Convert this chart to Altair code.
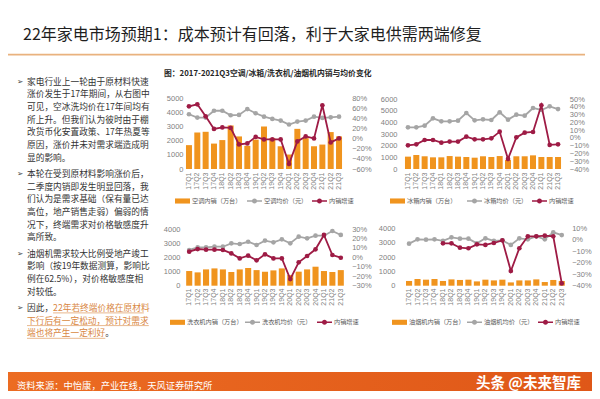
import altair as alt
import pandas as pd

# ---------------- data ----------------
QUARTERS = ["17Q1", "17Q2", "17Q3", "17Q4", "18Q1", "18Q2", "18Q3", "18Q4",
            "19Q1", "19Q2", "19Q3", "19Q4", "20Q1", "20Q2", "20Q3", "20Q4",
            "21Q1", "21Q2", "21Q3"]

AC_SALES = [1700, 2600, 2650, 1810, 2060, 3100, 2320, 1650, 2090, 3030, 2200, 1620,
            1030, 2860, 2200, 1620, 1740, 2630, 2320]
AC_PRICE = [3900, 3660, 3660, 4150, 4150, 3830, 3850, 4270, 3970, 3730, 3570, 3450,
            3170, 3380, 3450, 3730, 3640, 3680, 3730]
AC_GROWTH = [65, 69, 45, 20, 23, 22, -11, -9, 4, -1, -1, -1, -50, -5, 5, 1, 67, -7, 1]

FR_SALES = [1060, 1200, 1090, 1000, 1000, 1110, 1060, 1030, 970, 1090, 1030, 1110,
            770, 1090, 1090, 1170, 1030, 1030, 1030]
FR_PRICE = [3570, 3570, 3710, 4340, 4090, 4090, 4140, 4800, 4170, 4260, 4200, 4860,
            4230, 4660, 4570, 5230, 5060, 5370, 5140]
FR_GROWTH = [-9.6, -8.3, -2.7, -2.7, -6.1, -4.8, -4.8, 1.6, -1.8, -1.8, -0.6, 8,
             -27, 0.7, 6.7, 7.6, 42, -9, -8.3]

WA_SALES = [1035, 940, 1150, 1220, 1150, 965, 1150, 1250, 1100, 990, 1080, 1220,
            750, 990, 1150, 1340, 1035, 965, 1100]
WA_PRICE = [2520, 2700, 2700, 2750, 2750, 2990, 2940, 3100, 2870, 3180, 3060, 3270,
            2990, 3460, 3340, 3530, 3530, 3860, 3580]
WA_GROWTH = [6, 8.8, 8.1, 8.1, 7.8, 4.2, -1.1, 1.8, -3.2, 3.2, -1.1, -1.1,
             -23, -5.3, 1.4, 8.5, 23.7, 2.5, -0.4]

HO_SALES = [330, 465, 420, 465, 330, 440, 400, 420, 300, 420, 370, 420,
            230, 370, 370, 440, 255, 400, 330]
HO_PRICE = [2930, 3230, 3210, 3230, 3120, 3370, 3280, 3280, 2950, 3300, 3120, 3160,
            2840, 3300, 3230, 3440, 3230, 3720, 3530]
HO_GROWTH = [None, None, None, None, -3.1, -3.1, -6.9, -7.4, -4, -4.5, -2.8, -0.5,
             -27.2, -7.4, 3, 3, 3.6, 3, -38]

AC_NAMES = ["空调内销（万台）", "空调均价（元）", "内销增速"]
FR_NAMES = ["冰箱内销（万台）", "冰箱均价（元）", "内销增速"]
WA_NAMES = ["洗衣机内销（万台）", "洗衣机均价（元）", "内销增速"]
HO_NAMES = ["油烟机内销（万台）", "油烟机均价（元）", "内销增速"]

TITLE = "22年家电市场预期1：成本预计有回落，利于大家电供需两端修复"
HEADER = "图：2017-2021Q3空调/冰箱/洗衣机/油烟机内销与均价变化"
SOURCE = "资料来源：中怡康，产业在线，天风证券研究所"
WATERMARK = "头条 @未来智库"

P1 = ["家电行业上一轮由于原材料快速", "涨价发生于17年期间，从右图中", "可见，空冰洗均价在17年间均有",
      "所上升。但我们认为彼时由于棚", "改货币化安置政策、17年热夏等", "原因，涨价并未对需求端造成明",
      "显的影响。"]
P2 = ["本轮在受到原材料影响涨价后，", "二季度内销即发生明显回落，我", "们认为是需求基础（保有量已达",
      "高位，地产销售走弱）偏弱的情", "况下，终端需求对价格敏感度升", "高所致。"]
P3 = ["油烟机需求较大比例受地产竣工", "影响（按19年数据测算，影响比", "例在62.5%），对价格敏感度相",
      "对较低。"]
P4_DARK1 = "因此，"
P4_ORANGE = ["22年若终端价格在原材料", "下行后有一定松动，预计对需求", "端也将产生一定利好"]
P4_DARK_END = "。"

# ---------------- style ----------------
ORANGE = "#F0941E"
GREY = "#A5A5A5"
RED = "#9E1B45"
FONT = "Noto Sans CJK SC"
NUMFONT = "Liberation Sans"
AXIS_GREY = "#7F7F7F"
W, H = 584, 383

BAR_PATH = "M-1,-0.34L1,-0.34L1,0.34L-1,0.34Z"
LINE_PATH = ("M-1,-0.1L1,-0.1L1,0.1L-1,0.1Z "
             "M0.34,0A0.34,0.34,0,1,1,-0.34,0A0.34,0.34,0,1,1,0.34,0Z")


def legend(x, y, shape):
    return alt.Legend(orient="none", legendX=x, legendY=y, title=None, symbolType=shape,
                      symbolSize=225, symbolStrokeWidth=0, labelFontSize=6.2,
                      labelColor="#595959", labelFont=FONT, labelOffset=2, padding=0)


def panel(sales, price, growth, names, xr, yr, ldom, lvals, rdom, rvals,
          off_left, off_right, off_bottom, leg_y, leg_xs):
    df = pd.DataFrame({
        "q": QUARTERS,
        "sales": sales,
        "price": price,
        "growth": [g / 100 if g is not None else None for g in growth],
    })
    xs = alt.Scale(type="band", domain=QUARTERS, range=xr, paddingInner=0.28, paddingOuter=0.14)
    yl = alt.Scale(domain=ldom, range=yr, nice=False, zero=False)
    yrs = alt.Scale(domain=rdom, range=yr, nice=False, zero=False)
    x_plain = alt.X("q:N", scale=xs, axis=None)

    bars = alt.Chart(df).mark_bar().transform_calculate(s=f"'{names[0]}'").encode(
        x=alt.X("q:N", scale=xs, axis=alt.Axis(
            orient="bottom", offset=off_bottom, labelAngle=-90, labelFontSize=7,
            labelFont=NUMFONT, labelColor=AXIS_GREY, labelPadding=1.5, ticks=False,
            tickSize=0, domain=False, grid=False, title=None, labelOverlap=False)),
        y=alt.Y("sales:Q", scale=yl, axis=alt.Axis(
            orient="left", offset=off_left, values=lvals, format="d", labelFontSize=7.5,
            labelFont=NUMFONT, labelColor=AXIS_GREY, labelPadding=2, ticks=False,
            tickSize=0, domain=False, grid=False, title=None, labelOverlap=False)),
        color=alt.Color("s:N", scale=alt.Scale(domain=[names[0]], range=[ORANGE]),
                        legend=legend(leg_xs[0], leg_y, BAR_PATH)),
    )
    gline = alt.Chart(df).mark_line(color=GREY, strokeWidth=1.8).encode(
        x=x_plain, y=alt.Y("price:Q", scale=yl, axis=None))
    gpts = alt.Chart(df).mark_point(filled=True, size=22, opacity=1).transform_calculate(
        s=f"'{names[1]}'").encode(
        x=x_plain, y=alt.Y("price:Q", scale=yl, axis=None),
        color=alt.Color("s:N", scale=alt.Scale(domain=[names[1]], range=[GREY]),
                        legend=legend(leg_xs[1], leg_y, LINE_PATH)))
    rline = alt.Chart(df).transform_filter("isValid(datum.growth)").mark_line(
        color=RED, strokeWidth=1.8).encode(
        x=x_plain,
        y=alt.Y("growth:Q", scale=yrs, axis=alt.Axis(
            orient="right", offset=off_right, values=rvals, format=".0%", labelFontSize=7.5,
            labelFont=NUMFONT, labelColor=AXIS_GREY, labelPadding=2, ticks=False,
            tickSize=0, domain=False, grid=False, title=None, labelOverlap=False)))
    rpts = alt.Chart(df).transform_filter("isValid(datum.growth)").mark_point(
        filled=True, size=22, opacity=1).transform_calculate(s=f"'{names[2]}'").encode(
        x=x_plain, y=alt.Y("growth:Q", scale=yrs, axis=None),
        color=alt.Color("s:N", scale=alt.Scale(domain=[names[2]], range=[RED]),
                        legend=legend(leg_xs[2], leg_y, LINE_PATH)))
    return [bars, gline, gpts, rline, rpts]


def txt(s, x, y, size, color, weight="normal", align="left", font=FONT):
    return alt.Chart(alt.Data(values=[{"t": s}])).mark_text(
        align=align, baseline="middle", fontSize=size, color=color, fontWeight=weight,
        font=font).encode(text="t:N", x=alt.value(x), y=alt.value(y))


def rule(x1, x2, y, color, width):
    return alt.Chart(alt.Data(values=[{"a": 1}])).mark_rule(color=color, strokeWidth=width).encode(
        x=alt.value(x1), x2=alt.value(x2), y=alt.value(y))


layers = []

# title
layers.append(txt(TITLE, 15, 27, 16, "#1F1F1F"))
layers.append(rule(0, 577, 46.7, "#E9B27E", 1.8))

# left text
BODY = "#333333"
HIGHLIGHT = "#D9873F"
FS = 8.7
LH = 12.7
GAP = 3.5
TX = 19
y0 = 73.5
for para in [P1, P2, P3]:
    layers.append(txt("➢", 9, y0, 7.5, BODY, font="DejaVu Sans"))
    for i, line in enumerate(para):
        layers.append(txt(line, TX, y0 + i * LH, FS, BODY))
    y0 = y0 + len(para) * LH + GAP
layers.append(txt("➢", 9, y0, 7.5, BODY, font="DejaVu Sans"))
layers.append(txt(P4_DARK1, TX, y0, FS, BODY))
layers.append(txt(P4_ORANGE[0], TX + 3 * FS, y0, FS, HIGHLIGHT))
layers.append(txt(P4_ORANGE[1], TX, y0 + LH, FS, HIGHLIGHT))
layers.append(txt(P4_ORANGE[2], TX, y0 + 2 * LH, FS, HIGHLIGHT))
layers.append(txt(P4_DARK_END, TX + 9 * FS, y0 + 2 * LH, FS, BODY))
layers.append(rule(TX + 3 * FS, TX + 14 * FS - 5, y0 + 5, HIGHLIGHT, 0.6))
layers.append(rule(TX, TX + 14 * FS, y0 + LH + 5, HIGHLIGHT, 0.6))
layers.append(rule(TX, TX + 9 * FS, y0 + 2 * LH + 5, HIGHLIGHT, 0.6))

# chart header
layers.append(txt(HEADER, 156, 66, 7.8, "#262626", weight="bold"))

# panels
layers += panel(AC_SALES, AC_PRICE, AC_GROWTH, AC_NAMES, [176.8, 335.2], [161, 90.8],
                [0, 5000], [0, 1000, 2000, 3000, 4000, 5000],
                [-0.6, 0.8], [-0.6, -0.4, -0.2, 0, 0.2, 0.4, 0.6, 0.8],
                -177, -242.3, -220.5, 185.5, [167, 239, 304])
layers += panel(FR_SALES, FR_PRICE, FR_GROWTH, FR_NAMES, [395.8, 554.2], [161, 91],
                [0, 6000], [0, 1000, 2000, 3000, 4000, 5000, 6000],
                [-0.4, 0.5], [-0.4, -0.3, -0.2, -0.1, 0, 0.1, 0.2, 0.3, 0.4, 0.5],
                -391, -24.7, -220.5, 185.5, [382, 459, 524])
layers += panel(WA_SALES, WA_PRICE, WA_GROWTH, WA_NAMES, [177, 337], [277.7, 221],
                [0, 4000], [0, 1000, 2000, 3000, 4000],
                [-0.3, 0.3], [-0.3, -0.2, -0.1, 0, 0.1, 0.2, 0.3],
                -174, -242.3, -104.5, 306.8, [162, 237, 309])
layers += panel(HO_SALES, HO_PRICE, HO_GROWTH, HO_NAMES, [396.8, 558], [277.7, 220.3],
                [0, 4000], [0, 1000, 2000, 3000, 4000],
                [-0.4, 0.1], [-0.4, -0.3, -0.2, -0.1, 0, 0.1],
                -389, -22.3, -104.5, 306.8, [384, 459, 530])

# footer
footer = alt.Chart(alt.Data(values=[{"a": 1}])).mark_rect(
    color=alt.Gradient(gradient="linear",
                       stops=[alt.GradientStop(color="#EC6C22", offset=0),
                              alt.GradientStop(color="#DF5718", offset=1)],
                       x1=0, x2=1, y1=0, y2=0)).encode(
    x=alt.value(0), x2=alt.value(W), y=alt.value(364), y2=alt.value(H))
layers.append(footer)
layers.append(txt(SOURCE, 9, 377.5, 9.3, "#FFFFFF"))
layers.append(txt(WATERMARK, 468, 375.5, 14.5, "#FFFFFF", weight="bold"))

chart = alt.layer(*layers).resolve_scale(
    x="independent", y="independent", color="independent"
).properties(
    width=W, height=H, padding=0, background="white",
    autosize=alt.AutoSizeParams(type="none"),
).configure_view(stroke=None)

chart.save("out.html", embed_options={"renderer": "svg", "actions": False})
